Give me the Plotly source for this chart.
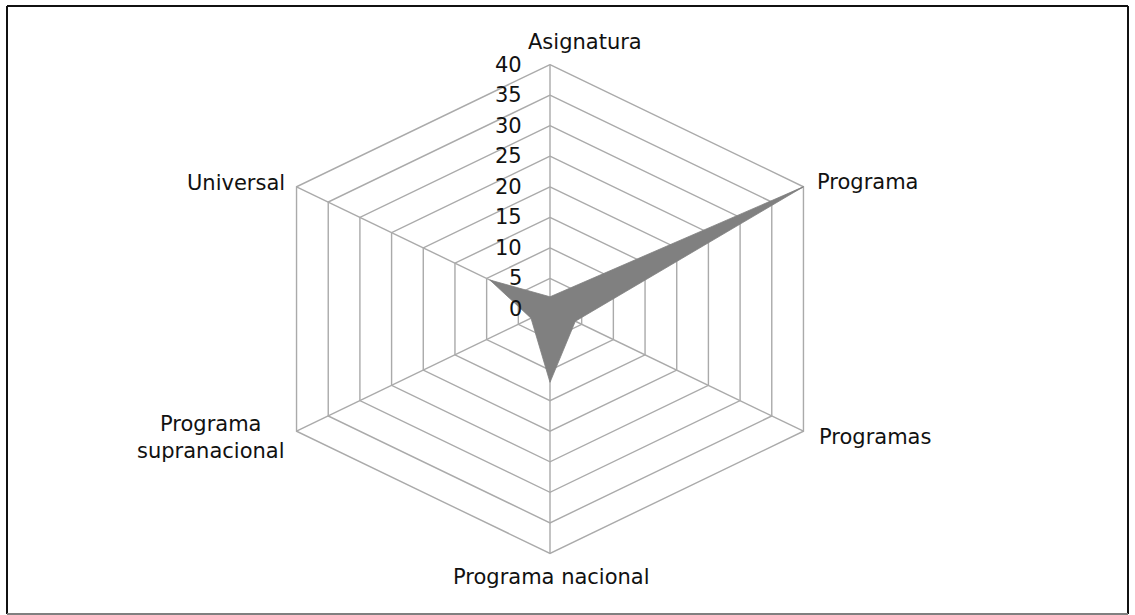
import math
import plotly.graph_objects as go

# ---- data ----
categories = ["Asignatura", "Programa", "Programas", "Programa nacional",
              "Programa supranacional", "Universal"]
values = [2, 40, 4, 12, 3, 9.5]
tick_values = [0, 5, 10, 15, 20, 25, 30, 35, 40]
tick_labels = ["0", "5", "10", "15", "20", "25", "30", "35", "40"]

# ---- styling ----
W, H = 1135, 615
FONT = "DejaVu Sans"
FS = 21
TXT = "#111111"
GRID = "#aaaaaa"
FILL = "#808080"

n = len(categories)
angles = [math.radians(i * 360.0 / n) for i in range(n)]


def proj(r, a):
    return r * math.sin(a), r * math.cos(a)


r_max = max(tick_values)

# grid rings
ring_x, ring_y = [], []
for t in tick_values[1:]:
    for a in angles + [angles[0]]:
        x, y = proj(t, a)
        ring_x.append(x)
        ring_y.append(y)
    ring_x.append(None)
    ring_y.append(None)

# spokes
sp_x, sp_y = [], []
for a in angles:
    x, y = proj(r_max, a)
    sp_x += [0, x, None]
    sp_y += [0, y, None]

# data polygon
px, py = [], []
for v, a in zip(values + [values[0]], angles + [angles[0]]):
    x, y = proj(v, a)
    px.append(x)
    py.append(y)

fig = go.Figure()
fig.add_trace(go.Scatter(x=ring_x, y=ring_y, mode="lines",
                         line=dict(color=GRID, width=1.4),
                         hoverinfo="skip", showlegend=False))
fig.add_trace(go.Scatter(x=sp_x, y=sp_y, mode="lines",
                         line=dict(color=GRID, width=1.4),
                         hoverinfo="skip", showlegend=False))
fig.add_trace(go.Scatter(x=px, y=py, mode="lines", fill="toself",
                         fillcolor=FILL, line=dict(color=FILL, width=0.8),
                         showlegend=False,
                         text=categories + [categories[0]]))

annotations = []
# radial tick labels
for t, lab in zip(tick_values, tick_labels):
    annotations.append(dict(x=0, y=t, xref="x", yref="y", text=lab,
                            showarrow=False, xanchor="right", yanchor="middle",
                            xshift=-26, font=dict(family=FONT, size=FS, color=TXT)))

# category labels: (xanchor, xshift, yshift)
label_pos = [
    ("center", 35, 23),
    ("left", 12, 5),
    ("left", 14, -6),
    ("center", 1, -24),
    ("right", -10, -6),
    ("right", -10, 4),
]
for cat, a, (xa, xs, ys) in zip(categories, angles, label_pos):
    x, y = proj(r_max, a)
    txt = cat
    if cat == "Programa supranacional":
        txt = "Programa<br>supranacional"
    annotations.append(dict(x=x, y=y, xref="x", yref="y", text=txt,
                            showarrow=False, xanchor=xa, yanchor="middle",
                            align="center", xshift=xs, yshift=ys,
                            font=dict(family=FONT, size=FS, color=TXT)))

# plot area geometry
L, R, T, B = 111, 146, 34, 31
XR = [-60, 60]
YR = [-45, 45]
pw, ph = W - L - R, H - T - B


def pxx(p):
    return (p - L) / pw


def pyy(p):
    return (H - B - p) / ph


shapes = [
    dict(type="line", xref="paper", yref="paper", x0=pxx(7), x1=pxx(1128),
         y0=pyy(6), y1=pyy(6), line=dict(color="#111111", width=2)),
    dict(type="line", xref="paper", yref="paper", x0=pxx(7), x1=pxx(7),
         y0=pyy(6), y1=pyy(614), line=dict(color="#111111", width=2)),
    dict(type="line", xref="paper", yref="paper", x0=pxx(1128), x1=pxx(1128),
         y0=pyy(6), y1=pyy(614), line=dict(color="#111111", width=2)),
    dict(type="line", xref="paper", yref="paper", x0=pxx(7), x1=pxx(1128),
         y0=pyy(614), y1=pyy(614), line=dict(color="#808080", width=2)),
]

fig.update_layout(
    width=W, height=H,
    margin=dict(l=L, r=R, t=T, b=B),
    paper_bgcolor="white", plot_bgcolor="white",
    xaxis=dict(range=XR, visible=False, fixedrange=True),
    yaxis=dict(range=YR, visible=False, fixedrange=True),
    annotations=annotations,
    shapes=shapes,
    showlegend=False,
)

fig.write_html("out.html")
